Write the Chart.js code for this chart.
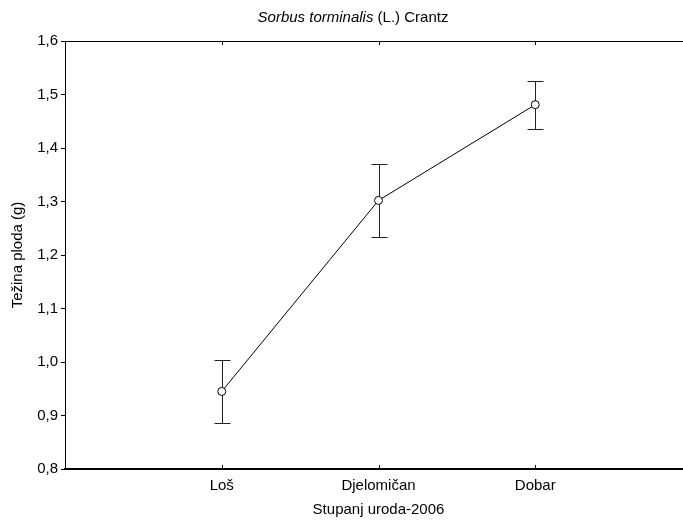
<!DOCTYPE html>
<html>
<head>
<meta charset="utf-8">
<script src="https://cdn.jsdelivr.net/npm/chart.js@4/dist/chart.umd.min.js"></script>
<style>
  html, body { margin: 0; padding: 0; background: #fff; overflow: hidden; width: 683px; height: 520px; }
  #wrap { position: absolute; left: 0; top: 0; width: 697px; height: 520px; }
</style>
</head>
<body>
<div id="wrap"><canvas id="c"></canvas></div>
<script>
const categories = ['Loš', 'Djelomičan', 'Dobar'];
const meanWeight = [0.945, 1.302, 1.481];
const upperWeight = [1.003, 1.370, 1.525];
const lowerWeight = [0.886, 1.234, 1.436];
const yTicks = [0.8, 0.9, 1.0, 1.1, 1.2, 1.3, 1.4, 1.5, 1.6];
const titleItalic = 'Sorbus torminalis';
const titleNormal = ' (L.) Crantz';
const xTitle = 'Stupanj uroda-2006';
const yTitle = 'Težina ploda (g)';

const FONT = '"Liberation Sans", Arial, sans-serif';
const FS = 15;

const framePlugin = {
  id: 'frame',
  beforeDatasetsDraw(chart) {
    const ctx = chart.ctx;
    const x = chart.scales.x, y = chart.scales.y;
    const a = chart.chartArea;
    ctx.save();
    ctx.strokeStyle = '#000';
    ctx.lineWidth = 1;
    ctx.beginPath();
    ctx.moveTo(a.left, a.top + 0.5);
    ctx.lineTo(a.right, a.top + 0.5);
    ctx.stroke();
    categories.forEach((c, i) => {
      const px = Math.round(x.getPixelForValue(i + 1)) + 0.5;
      ctx.beginPath();
      ctx.moveTo(px, a.top); ctx.lineTo(px, a.top + 4);
      ctx.moveTo(px, a.bottom); ctx.lineTo(px, a.bottom - 4);
      ctx.stroke();
    });
    ctx.strokeStyle = '#222';
    ctx.lineWidth = 1;
    meanWeight.forEach((m, i) => {
      const px = Math.round(x.getPixelForValue(i + 1)) + 0.5;
      const yt = Math.round(y.getPixelForValue(upperWeight[i])) + 0.5;
      const yb = Math.round(y.getPixelForValue(lowerWeight[i])) + 0.5;
      ctx.beginPath();
      ctx.moveTo(px, yt); ctx.lineTo(px, yb);
      ctx.moveTo(px - 8, yt); ctx.lineTo(px + 8, yt);
      ctx.moveTo(px - 8, yb); ctx.lineTo(px + 8, yb);
      ctx.stroke();
    });
    ctx.restore();
  },
  afterDraw(chart) {
    const ctx = chart.ctx;
    ctx.save();
    ctx.fillStyle = '#000';
    ctx.textBaseline = 'alphabetic';
    ctx.font = 'italic ' + FS + 'px ' + FONT;
    const w1 = ctx.measureText(titleItalic).width;
    ctx.font = FS + 'px ' + FONT;
    const w2 = ctx.measureText(titleNormal).width;
    const x0 = 353 - (w1 + w2) / 2;
    ctx.font = 'italic ' + FS + 'px ' + FONT;
    ctx.fillText(titleItalic, x0, 22);
    ctx.font = FS + 'px ' + FONT;
    ctx.fillText(titleNormal, x0 + w1, 22);
    ctx.restore();
  }
};

new Chart(document.getElementById('c'), {
  type: 'line',
  data: {
    datasets: [{
      data: meanWeight.map((v, i) => ({ x: i + 1, y: v })),
      borderColor: '#000',
      borderWidth: 1,
      backgroundColor: '#fff',
      pointBackgroundColor: '#fff',
      pointBorderColor: '#000',
      pointBorderWidth: 1,
      pointRadius: 4,
      tension: 0
    }]
  },
  options: {
    responsive: true,
    maintainAspectRatio: false,
    animation: false,
    layout: { padding: { top: 41, left: 0, right: 0, bottom: 0 } },
    plugins: { legend: { display: false }, tooltip: { enabled: false }, title: { display: false } },
    scales: {
      x: {
        type: 'linear',
        min: 0,
        max: 4,
        afterBuildTicks: s => { s.ticks = categories.map((c, i) => ({ value: i + 1 })); },
        afterFit: s => { s.height = 51; },
        grid: { display: true, drawOnChartArea: false, drawTicks: false },
        border: { display: true, color: '#000', width: 2 },
        ticks: {
          padding: 8,
          color: '#000',
          font: { family: FONT, size: FS },
          maxRotation: 0,
          autoSkip: false,
          callback: v => categories[v - 1] || ''
        },
        title: { display: true, text: xTitle, color: '#000', font: { family: FONT, size: FS }, padding: { top: 0, bottom: 1 } }
      },
      y: {
        min: 0.8,
        max: 1.6,
        afterBuildTicks: s => { s.ticks = yTicks.map(v => ({ value: v })); },
        afterFit: s => { s.width = 65; },
        grid: { display: true, drawOnChartArea: false, drawTicks: true, tickLength: 4, color: '#000' },
        border: { display: true, color: '#000', width: 1 },
        ticks: {
          padding: 3,
          color: '#000',
          font: { family: FONT, size: FS },
          callback: v => v.toFixed(1).replace('.', ',')
        },
        title: { display: true, text: yTitle, color: '#000', font: { family: FONT, size: FS }, padding: { top: 9, bottom: 0 } }
      }
    }
  },
  plugins: [framePlugin]
});
</script>
</body>
</html>
